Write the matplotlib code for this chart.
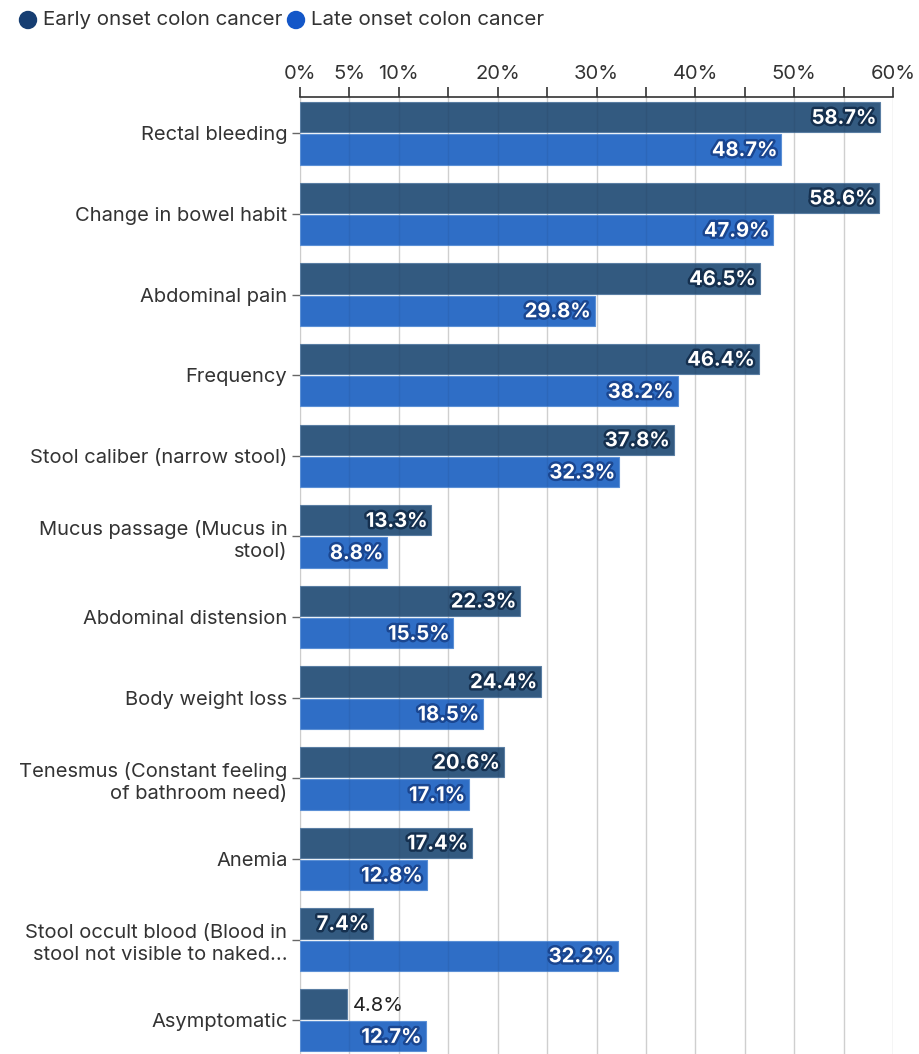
import matplotlib.pyplot as plt
import matplotlib.patheffects as pe
from matplotlib.patches import Ellipse
import numpy as np

plt.rcParams['font.family'] = ['Inter', 'DejaVu Sans']

symptoms = [
    "Rectal bleeding",
    "Change in bowel habit",
    "Abdominal pain",
    "Frequency",
    "Stool caliber (narrow stool)",
    "Mucus passage (Mucus in\nstool)",
    "Abdominal distension",
    "Body weight loss",
    "Tenesmus (Constant feeling\nof bathroom need)",
    "Anemia",
    "Stool occult blood (Blood in\nstool not visible to naked...",
    "Asymptomatic",
]
early = [58.7, 58.6, 46.5, 46.4, 37.8, 13.3, 22.3, 24.4, 20.6, 17.4, 7.4, 4.8]
late = [48.7, 47.9, 29.8, 38.2, 32.3, 8.8, 15.5, 18.5, 17.1, 12.8, 32.2, 12.7]

tick_vals = list(range(0, 61, 5))
tick_text = ["0%", "5%", "10%", "", "20%", "", "30%", "", "40%", "", "50%", "", "60%"]

c_early = "#335a80"
c_late = "#2f6ec6"
c_early_dot = "#163e72"
c_late_dot = "#1457c8"
fs = 14.5

W, H = 920, 1054
fig = plt.figure(figsize=(W / 100, H / 100), dpi=100)
ax = fig.add_axes([300 / W, 0.0, 593 / W, (H - 97) / H])

y = np.arange(len(symptoms))
h = 0.375
off = 0.2

ax.barh(y - off, early, height=h, color=c_early, edgecolor="#5a7ea3", linewidth=0.8, zorder=3)
ax.barh(y + off, late, height=h, color=c_late, edgecolor="#5b90d6", linewidth=0.8, zorder=3)

# faint grid showing through the bars
ax.vlines(tick_vals[1:], -0.45, 11.42, color="#000000", alpha=0.06, linewidth=1.0, zorder=3.5)

stroke_dark = [pe.withStroke(linewidth=3.5, foreground="#15304f")]
stroke_blue = [pe.withStroke(linewidth=3.5, foreground="#1a4690")]

for yi, v in zip(y, early):
    if v > 6:
        ax.text(v - 0.4, yi - off + 0.02, f"{v}%", ha="right", va="center", color="white",
                fontsize=fs, fontweight="bold", path_effects=stroke_dark, zorder=4)
    else:
        ax.text(v + 0.6, yi - off + 0.02, f"{v}%", ha="left", va="center", color="#222222",
                fontsize=fs, zorder=4)
for yi, v in zip(y, late):
    ax.text(v - 0.4, yi + off + 0.02, f"{v}%", ha="right", va="center", color="white",
            fontsize=fs, fontweight="bold", path_effects=stroke_blue, zorder=4)

ax.set_xlim(0, 60)
ax.set_ylim(11.42, -0.45)

ax.xaxis.tick_top()
ax.set_xticks(tick_vals)
ax.set_xticklabels(tick_text, fontsize=fs, color="#333333")
ax.tick_params(axis="x", length=7, width=1.2, color="#333333", pad=3)
ax.grid(axis="x", color="#dcdcdc", linewidth=1.0, zorder=0)

ax.set_yticks(y)
ax.set_yticklabels(symptoms, fontsize=fs, color="#333333", linespacing=1.3)
ax.tick_params(axis="y", length=6, width=1.0, color="#666666", pad=3)

for s in ["right", "bottom"]:
    ax.spines[s].set_visible(False)
ax.spines["top"].set_color("#333333")
ax.spines["top"].set_linewidth(1.2)
ax.spines["left"].set_color("#cccccc")

# legend row
ly = 1 - 20 / H
for cx, tx, col, label in [(28, 43, c_early_dot, "Early onset colon cancer"),
                           (296, 311, c_late_dot, "Late onset colon cancer")]:
    fig.add_artist(Ellipse((cx / W, ly), 17 / W, 17 / H, color=col,
                           transform=fig.transFigure))
    fig.text(tx / W, ly, label, color="#333333", fontsize=14.8, va="center")

fig.savefig("out.png", dpi=100)
